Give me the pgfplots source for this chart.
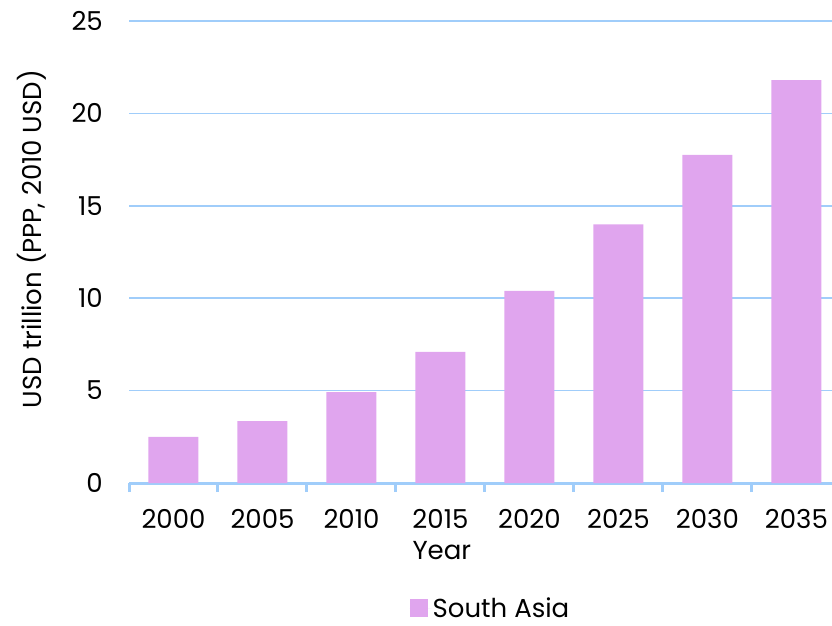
\documentclass[border=0pt]{standalone}
\usepackage{pgfplots}
\pgfplotsset{compat=1.18}
\usepackage{fontspec}
\setmainfont{Poppins}
\definecolor{barc}{RGB}{224,165,238}
\definecolor{gridc}{RGB}{160,205,250}
\begin{document}
\begin{tikzpicture}
\path[use as bounding box] (0pt,0pt) rectangle (832pt,626pt);
\begin{axis}[
  at={(129pt,143pt)}, anchor=south west,
  scale only axis, width=703pt, height=462pt,
  xmin=-0.5, xmax=7.4, ymin=0, ymax=25,
  ytick={0,5,10,15,20,25},
  xtick={0,...,7},
  xticklabels={2000,2005,2010,2015,2020,2025,2030,2035},
  minor xtick={-0.5,0.5,1.5,2.5,3.5,4.5,5.5,6.5},
  major tick length=0pt,
  minor tick length=9pt,
  tick align=outside,
  xtick pos=bottom,
  minor x tick style={draw=gridc, line width=3pt},
  y tick style={draw=none},
  axis x line*=bottom, axis y line*=left,
  x axis line style={draw=gridc, line width=3pt, -},
  y axis line style={draw=none},
  ymajorgrids, major grid style={draw=gridc, line width=1.5pt},
  /pgf/number format/assume math mode=true,
  tick label style={font=\fontsize{26}{31}\selectfont, inner sep=0pt},
  yticklabel style={anchor=east, xshift=-26pt},
  xticklabel style={anchor=base, yshift=-45pt},
  xlabel={Year}, ylabel={USD trillion (PPP, 2010 USD)},
  label style={font=\fontsize{26}{31}\selectfont, inner sep=0pt},
  xlabel style={at={(rel axis cs:0.445,0)}, anchor=base, yshift=-76pt},
  ylabel style={at={(rel axis cs:0,0.528)}, anchor=center, yshift=97pt},
  legend style={at={(rel axis cs:0.5007,0)}, anchor=center, xshift=9pt, yshift=-125pt, draw=none, fill=none,
    font=\fontsize{26}{31}\selectfont, inner sep=0pt, nodes={inner sep=1pt}},
  legend image code/.code={\fill[#1] (0pt,-9pt) rectangle (18pt,9pt); \path (0pt,0pt) -- (22pt,0pt);},
]
\addplot[ybar, bar width=50pt, fill=barc, draw=none] coordinates {
(0,2.49) (1,3.35) (2,4.92) (3,7.09) (4,10.39) (5,14.0) (6,17.75) (7,21.8)};
\addlegendentry{South Asia}
\end{axis}
\end{tikzpicture}
\end{document}
